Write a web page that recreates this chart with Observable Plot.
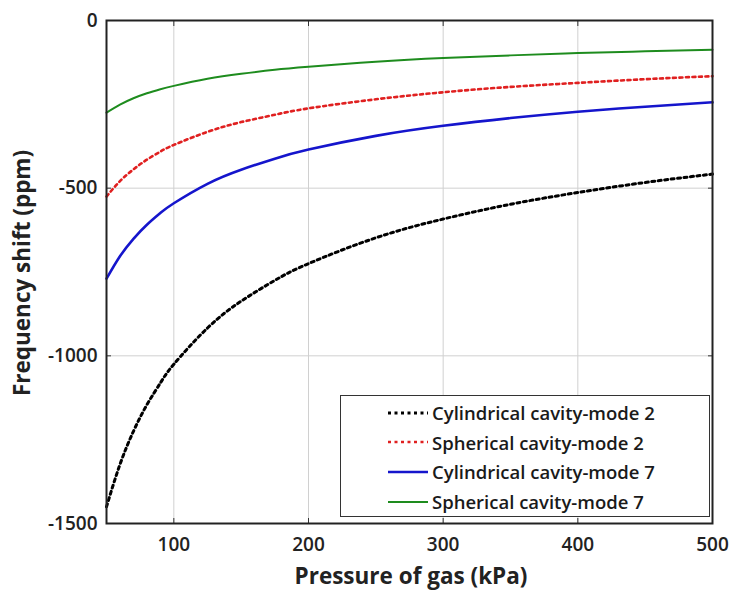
<!DOCTYPE html>
<html>
<head>
<meta charset="utf-8">
<script src="https://cdn.jsdelivr.net/npm/d3@7"></script>
<script src="https://cdn.jsdelivr.net/npm/@observablehq/plot@0.6"></script>
<style>
  html, body { margin: 0; padding: 0; background: #fff; }
  #wrap { position: relative; width: 733px; height: 590px; font-family: "Open Sans", sans-serif; }
  #legend { position: absolute; left: 340px; top: 395px; width: 370px; height: 122px; box-sizing: border-box;
    border: 1.5px solid #333; background: #fff; font-weight: 600; font-size: 18.5px; color: #1a1a1a; padding-top: 2px; }
  .row { display: flex; align-items: center; height: 29.6px; padding-left: 47px; white-space: nowrap; }
  .row svg { margin-right: 4px; flex: none; }
</style>
</head>
<body>
<div id="wrap"></div>
<script>
const pressure = [50, 60, 70, 80, 90, 100, 125, 150, 175, 200, 250, 300, 350, 400, 450, 500];
const cylMode2 = [-1450, -1324, -1225, -1146, -1081, -1025, -917, -837, -775, -725, -648, -592, -548, -513, -483, -458];
const sphMode2 = [-525, -479, -444, -415, -391, -371, -332, -303, -281, -262, -235, -214, -198, -186, -175, -166];
const cylMode7 = [-770, -703, -651, -609, -574, -545, -487, -445, -412, -385, -344, -314, -291, -272, -257, -244];
const sphMode7 = [-275, -251, -232, -217, -205, -195, -174, -159, -147, -138, -123, -112, -104, -97, -92, -87];
const seriesNames = ["Cylindrical cavity-mode 2", "Spherical cavity-mode 2", "Cylindrical cavity-mode 7", "Spherical cavity-mode 7"];
const seriesColors = ["#000000", "#e02020", "#1515cc", "#1e8c1e"];
const seriesDash = ["3,3.5", "3,3.5", null, null];
const seriesWidth = [3, 2.6, 2.6, 2];
const xTicks = [100, 200, 300, 400, 500];
const yTicks = [0, -500, -1000, -1500];

const seriesValues = [cylMode2, sphMode2, cylMode7, sphMode7];
const lineMarks = seriesValues.map((vals, i) =>
  Plot.line(pressure.map((p, j) => ({p, v: vals[j]})), {
    x: "p", y: "v", stroke: seriesColors[i], strokeWidth: seriesWidth[i],
    strokeDasharray: seriesDash[i], curve: "natural"
  })
);

const chart = Plot.plot({
  width: 733, height: 590,
  marginTop: 20, marginBottom: 67, marginLeft: 106, marginRight: 21,
  style: { fontFamily: "Open Sans, sans-serif", fontSize: "19px", fontWeight: 600, color: "#222" },
  x: { domain: [50, 500] },
  y: { domain: [-1500, 0] },
  marks: [
    Plot.gridX(xTicks, { stroke: "#d0d0d0", strokeOpacity: 1, strokeWidth: 1 }),
    Plot.gridY(yTicks, { stroke: "#d0d0d0", strokeOpacity: 1, strokeWidth: 1 }),
    ...lineMarks,
    Plot.axisX(xTicks, { anchor: "bottom", tickSize: 0, tickPadding: 14, label: null, fontSize: 19 }),
    Plot.axisX(xTicks, { anchor: "bottom", tickSize: -5, tickFormat: () => "", label: null, stroke: "#333" }),
    Plot.axisX(xTicks, { anchor: "top", tickSize: -5, tickFormat: () => "", label: null, stroke: "#333" }),
    Plot.axisY(yTicks, { anchor: "left", tickSize: 0, tickPadding: 9, label: null, fontSize: 19, tickFormat: d => String(d) }),
    Plot.axisY(yTicks, { anchor: "left", tickSize: -5, tickFormat: () => "", label: null, stroke: "#333" }),
    Plot.axisY(yTicks, { anchor: "right", tickSize: -5, tickFormat: () => "", label: null, stroke: "#333" }),
    Plot.frame({ stroke: "#222", strokeWidth: 2 })
  ]
});

const wrap = document.getElementById("wrap");
wrap.appendChild(chart);

// axis titles
const svg = d3.select(chart);
svg.append("text").attr("x", 411).attr("y", 578).attr("text-anchor", "middle").attr("dominant-baseline", "middle")
  .attr("font-size", 22.5).attr("font-weight", 700).attr("fill", "#222").text("Pressure of gas (kPa)");
svg.append("text").attr("transform", "translate(24,273) rotate(-90)").attr("text-anchor", "middle").attr("dominant-baseline", "middle")
  .attr("font-size", 22.5).attr("font-weight", 700).attr("fill", "#222").text("Frequency shift (ppm)");

// legend
const legend = document.createElement("div");
legend.id = "legend";
seriesNames.forEach((name, i) => {
  const row = document.createElement("div");
  row.className = "row";
  row.innerHTML = `<svg width="40" height="10"><line x1="0" x2="40" y1="5" y2="5" stroke="${seriesColors[i]}" stroke-width="${seriesWidth[i]}" ${seriesDash[i] ? `stroke-dasharray="${seriesDash[i]}"` : ""}/></svg><span>${name}</span>`;
  legend.appendChild(row);
});
wrap.appendChild(legend);
</script>
</body>
</html>
